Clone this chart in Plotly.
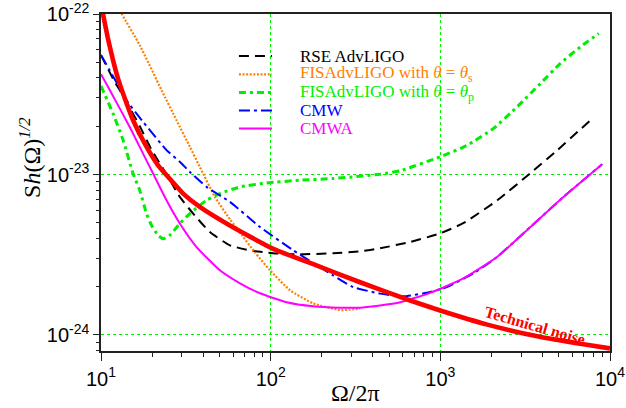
import math
import plotly.graph_objects as go

# ---- noise curves: frequency Omega/2pi (Hz) and amplitude spectral density ----
rse_f = [10.0, 11.88, 13.80, 16.92, 19.92, 24.33, 29.15, 34.92, 43.83, 57.51, 75.47,
         103.2, 148.9, 233.2, 336.6, 441.8, 664.2, 998.6, 1365, 2167, 3394, 4899, 7883]
rse_s = [5.55e-23, 3.88e-23, 2.98e-23, 2.00e-23, 1.42e-23, 1.004e-23, 7.25e-24, 5.71e-24,
         4.38e-24, 3.62e-24, 3.37e-24, 3.23e-24, 3.18e-24, 3.23e-24, 3.32e-24, 3.47e-24,
         3.80e-24, 4.30e-24, 4.97e-24, 6.91e-24, 1.02e-23, 1.42e-23, 2.24e-23]

fis_s_f = [12.6, 13.25, 16.92, 22.73, 27.87, 33.39, 38.24, 46.90, 57.51, 67.7, 80.8,
           99.1, 130.0, 177.7, 256.5, 336.6]
fis_s_s = [1.10e-22, 1.0e-22, 6.40e-23, 3.36e-23, 2.18e-23, 1.49e-23, 1.115e-23, 7.25e-24,
           5.26e-24, 4.18e-24, 3.27e-24, 2.53e-24, 1.90e-24, 1.575e-24, 1.43e-24, 1.46e-24]

fis_p_f = [10.0, 11.77, 13.49, 15.45, 16.92, 18.53, 19.84, 21.70, 23.23, 25.44, 29.15,
           33.39, 41.90, 50.2, 65.9, 94.7, 148.9, 233.2, 441.8, 579.9, 998.6, 1435, 2061,
           2833, 3889, 5104, 6697, 8589]
fis_p_s = [3.56e-23, 2.40e-23, 1.64e-23, 1.014e-23, 7.98e-24, 5.71e-24, 4.83e-24, 4.18e-24,
           3.98e-24, 4.18e-24, 4.95e-24, 5.71e-24, 6.91e-24, 7.61e-24, 8.37e-24, 8.86e-24,
           9.21e-24, 9.44e-24, 1.004e-23, 1.056e-23, 1.29e-23, 1.52e-23, 1.94e-23, 2.64e-23,
           3.69e-23, 4.93e-23, 6.25e-23, 7.58e-23]

cmw_f = [10.0, 12.05, 14.12, 17.70, 24.33, 29.15, 33.39, 41.90, 57.51, 86.5, 135.9, 233.2,
         306.1, 441.8, 606.5, 871.6, 1094, 1564, 2158, 3394, 5316, 8995]
cmw_s = [5.55e-23, 3.93e-23, 2.91e-23, 2.13e-23, 1.42e-23, 1.20e-23, 1.038e-23, 8.37e-24,
         6.75e-24, 4.71e-24, 3.37e-24, 2.35e-24, 1.99e-24, 1.81e-24, 1.74e-24, 1.85e-24,
         1.99e-24, 2.42e-24, 3.06e-24, 4.71e-24, 7.25e-24, 1.16e-23]

cmwa_f = [10.0, 11.26, 14.77, 17.70, 20.28, 24.33, 29.15, 36.58, 50.2, 65.9, 86.5, 124.3,
          177.7, 256.5, 336.6, 554.3, 871.6, 1365, 2158, 3394, 5316, 8995]
cmwa_s = [4.22e-23, 3.36e-23, 1.98e-23, 1.35e-23, 1.014e-23, 6.91e-24, 4.95e-24, 3.53e-24,
          2.53e-24, 2.10e-24, 1.82e-24, 1.60e-24, 1.51e-24, 1.48e-24, 1.48e-24, 1.58e-24,
          1.83e-24, 2.25e-24, 3.06e-24, 4.71e-24, 7.25e-24, 1.16e-23]

tech_f = [10.0, 10.28, 10.96, 11.73, 12.55, 13.80, 15.45, 18.53, 21.70, 24.33, 30.49, 38.24,
          57.51, 103.6, 178.4, 336.6, 664, 998, 1892, 3733, 6976, 10000]
tech_s = [1.16e-22, 1.0e-22, 7.13e-23, 5.24e-23, 4.02e-23, 2.99e-23, 2.18e-23, 1.49e-23,
          1.14e-23, 9.9e-24, 7.61e-24, 6.28e-24, 4.81e-24, 3.44e-24, 2.76e-24, 2.13e-24,
          1.64e-24, 1.42e-24, 1.16e-24, 9.8e-25, 8.74e-25, 8.25e-25]

# ---- tick labels ----
x_ticks = [10, 100, 1000, 10000]
x_ticktext = ["10<sup>1</sup>", "10<sup>2</sup>", "10<sup>3</sup>", "10<sup>4</sup>"]
y_ticks = [1e-24, 1e-23, 1e-22]
y_ticktext = ["10<sup>-24</sup>", "10<sup>-23</sup>", "10<sup>-22</sup>"]

x_minor = [k * 10 ** d for d in (1, 2, 3) for k in range(2, 10)]
y_minor = [k * 10.0 ** d for d in (-25, -24, -23) for k in range(2, 10) if k * 10.0 ** d > 7.9e-25]

# ---- styles ----
curves = [
    ("RSE AdvLIGO", rse_f, rse_s, "#000000", 2, "10px,6px"),
    ("FISAdvLIGO with <i>θ</i> = <i>θ</i><sub>s</sub>", fis_s_f, fis_s_s, "#ff8000", 2.2, "2px,1.6px"),
    ("FISAdvLIGO with <i>θ</i> = <i>θ</i><sub>p</sub>", fis_p_f, fis_p_s, "#00ee00", 3, "7px,4px,3px,4px"),
    ("CMW", cmw_f, cmw_s, "#0000ff", 2, "11px,4px,3px,4px"),
    ("CMWA", cmwa_f, cmwa_s, "#ff00ff", 2, "solid"),
]

X_RANGE = [1, 4]
Y_RANGE = [-24.1, -21.9995]
W, H = 626, 408
M = dict(l=101, r=16, t=14, b=57)
plot_w = W - M["l"] - M["r"]
plot_h = H - M["t"] - M["b"]

fig = go.Figure()

for name, f, s, color, width, dash in curves:
    fig.add_trace(go.Scatter(
        x=f, y=s, mode="lines", name=name, showlegend=False, hoverinfo="skip",
        line=dict(color=color, width=width, dash=dash, shape="spline", smoothing=0.5),
    ))

fig.add_trace(go.Scatter(
    x=tech_f, y=tech_s, mode="lines", name="Technical noise", showlegend=False,
    hoverinfo="skip", line=dict(color="#ff0000", width=4.6, shape="spline", smoothing=0.5),
))

sans = "Liberation Sans"
serif = "Liberation Serif"
axis_font = dict(family=sans, size=20, color="#000000")
line_col = "#222222"
grid = dict(showgrid=True, gridcolor="#00f000", griddash="dot", gridwidth=1)

fig.update_layout(
    template="none",
    width=W, height=H,
    margin=M,
    paper_bgcolor="white", plot_bgcolor="white",
    font=dict(family=serif, color="#000000"),
    showlegend=False,
    xaxis=dict(
        type="log", range=X_RANGE, tickmode="array", tickvals=x_ticks, ticktext=x_ticktext,
        ticks="outside", ticklen=8, tickwidth=1.3, tickcolor=line_col,
        showline=True, mirror=True, linecolor=line_col, linewidth=1.5, zeroline=False,
        tickfont=axis_font, ticklabelstandoff=1, ticklabeloverflow="allow",
        minor=dict(tickmode="array", tickvals=x_minor, ticks="outside", ticklen=4,
                   tickwidth=1.1, tickcolor=line_col, showgrid=False),
        **grid,
    ),
    yaxis=dict(
        type="log", range=Y_RANGE, tickmode="array", tickvals=y_ticks, ticktext=y_ticktext,
        ticks="outside", ticklen=6, tickwidth=1.3, tickcolor=line_col,
        showline=True, mirror=True, linecolor=line_col, linewidth=1.5, zeroline=False,
        tickfont=axis_font, ticklabelstandoff=0, ticklabeloverflow="allow",
        minor=dict(tickmode="array", tickvals=y_minor, ticks="outside", ticklen=3.5,
                   tickwidth=1.1, tickcolor=line_col, showgrid=False),
        **grid,
    ),
)

shapes = []
annotations = []

# inward ticks along the top and right edges of the frame
for v, length in [(t, 6) for t in x_ticks[1:-1]] + [(t, 4) for t in x_minor]:
    shapes.append(dict(type="line", xref="x", yref="paper", x0=math.log10(v), x1=math.log10(v),
                       y0=1, y1=1 - length / plot_h, line=dict(color=line_col, width=1.2)))
for v, length in [(t, 6) for t in y_ticks[:-1]] + [(t, 4) for t in y_minor]:
    shapes.append(dict(type="line", xref="paper", yref="y", y0=math.log10(v), y1=math.log10(v),
                       x0=1, x1=1 - length / plot_w, line=dict(color=line_col, width=1.2)))

# legend drawn as sample lines with coloured labels
legend_y = [0.8753, 0.8209, 0.7669, 0.7134, 0.6605]
for (name, f, s, color, width, dash), yy in zip(curves, legend_y):
    shapes.append(dict(type="line", xref="paper", yref="paper", x0=0.271, x1=0.336,
                       y0=yy, y1=yy, line=dict(color=color, width=width, dash=dash)))
    annotations.append(dict(xref="paper", yref="paper", x=0.387, y=yy, text=name,
                            showarrow=False, xanchor="left", yanchor="middle",
                            font=dict(family=serif, size=17, color=color)))

# axis titles
annotations.append(dict(xref="paper", yref="paper", x=0.5, y=-0.125, text="Ω/2π",
                        showarrow=False, xanchor="center", yanchor="middle",
                        font=dict(family=serif, size=24, color="#000000")))
annotations.append(dict(xref="paper", yref="paper", x=-0.14, y=0.575,
                        text="S<i>h</i>(Ω)<sup><i>1/2</i></sup>", textangle=-90,
                        showarrow=False, xanchor="center", yanchor="middle",
                        font=dict(family=serif, size=24, color="#000000")))

# curve label
annotations.append(dict(xref="paper", yref="paper", x=0.852, y=0.076,
                        text="<b>Technical noise</b>", textangle=16, showarrow=False,
                        xanchor="center", yanchor="middle",
                        font=dict(family=serif, size=16, color="#ff0000")))

fig.update_layout(shapes=shapes, annotations=annotations)

fig.write_html("out.html")
